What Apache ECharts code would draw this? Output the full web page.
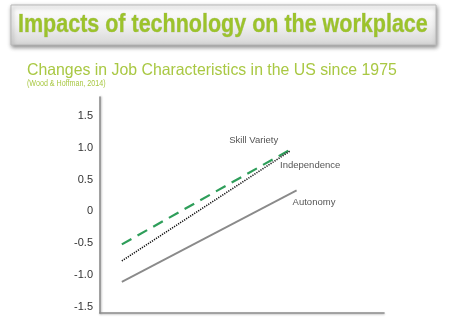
<!DOCTYPE html>
<html><head><meta charset="utf-8">
<script src="https://cdn.jsdelivr.net/npm/echarts@6/dist/echarts.min.js"></script>
<style>html,body{margin:0;padding:0;background:#fff}#c{width:452px;height:326px}</style>
</head><body><div id="c"></div>
<script>
const seriesNames = ['Skill Variety', 'Independence', 'Autonomy'];
const xStart = [1975, 1975, 1975];
const xEnd = [2014, 2013.5, 2015];
const skillVariety = [-0.52, 0.99];
const independence = [-0.78, 0.95];
const autonomy = [-1.11, 0.33];
const yTicks = [-1.5, -1.0, -0.5, 0, 0.5, 1.0, 1.5];
const titleText = 'Impacts of technology on the workplace';
const subtitleText = 'Changes in Job Characteristics in the US since 1975';
const sourceText = '(Wood & Hoffman, 2014)';

const vals = [skillVariety, independence, autonomy];
const styles = [
  {color:'#2e9e5a', type:[11,7], width:2.2},
  {color:'#111111', type:[1.2,1.2], width:1.6},
  {color:'#8a8a8a', type:'solid', width:1.8}
];
const labelOffsets = [[-63,-8],[-10,14],[-4,12]];
const chart = echarts.init(document.getElementById('c'), null, {renderer:'canvas'});
chart.setOption({
  animation:false,
  backgroundColor:'#fff',
  grid:{left:100, right:68, top:97, bottom:13},
  xAxis:{type:'value', min:1970, max:2035, axisLabel:{show:false}, axisTick:{show:false}, splitLine:{show:false},
    axisLine:{show:true, onZero:false, lineStyle:{color:'#8c8c8c', width:1.6, shadowColor:'rgba(0,0,0,0.25)', shadowBlur:2, shadowOffsetY:1}}},
  yAxis:{type:'value', min:-1.6, max:1.8, splitLine:{show:false}, axisTick:{show:false},
    axisLine:{show:true, onZero:false, lineStyle:{color:'#8c8c8c', width:1.6, shadowColor:'rgba(0,0,0,0.25)', shadowBlur:2, shadowOffsetX:1}},
    axisLabel:{customValues:yTicks, margin:7, color:'#333', fontSize:11, fontFamily:'Liberation Sans, Arial',
      formatter:v=> v===0 ? '0' : v.toFixed(1)}},
  series: seriesNames.map((n,i)=>({
    name:n, type:'line', symbol:'none',
    data:[[xStart[i], vals[i][0]],[xEnd[i], vals[i][1]]],
    lineStyle:styles[i],
    endLabel:{show:true, formatter:n, color:'#555', fontSize:9.5, fontFamily:'Liberation Sans, Arial', distance:0, offset:labelOffsets[i]}
  })),
  graphic:[
    {type:'rect', shape:{x:11, y:5, width:425, height:40}, z:10,
      style:{fill:new echarts.graphic.LinearGradient(0,0,0,1,[{offset:0,color:'#ffffff'},{offset:0.5,color:'#f1f1f1'},{offset:1,color:'#d6d6d6'}]),
        stroke:'#b8b8b8', lineWidth:1, shadowBlur:4, shadowOffsetY:2, shadowOffsetX:1, shadowColor:'rgba(0,0,0,0.45)'}},
    {type:'text', x:18, y:25, scaleX:0.86, z:11,
      style:{text:titleText, font:'bold 25px "Liberation Sans", Arial', fill:'#9cc32b', verticalAlign:'middle', align:'left',
        stroke:'rgba(90,110,20,0.35)', lineWidth:0.6}},
    {type:'text', x:27, y:70, scaleX:0.96, z:11,
      style:{text:subtitleText, font:'16.5px "Liberation Sans", Arial', fill:'#a9c843', verticalAlign:'middle', align:'left'}},
    {type:'text', x:27, y:83, scaleX:0.75, z:11,
      style:{text:sourceText, font:'9.5px "Liberation Sans", Arial', fill:'#a9c843', verticalAlign:'middle', align:'left'}}
  ]
});
</script></body></html>
